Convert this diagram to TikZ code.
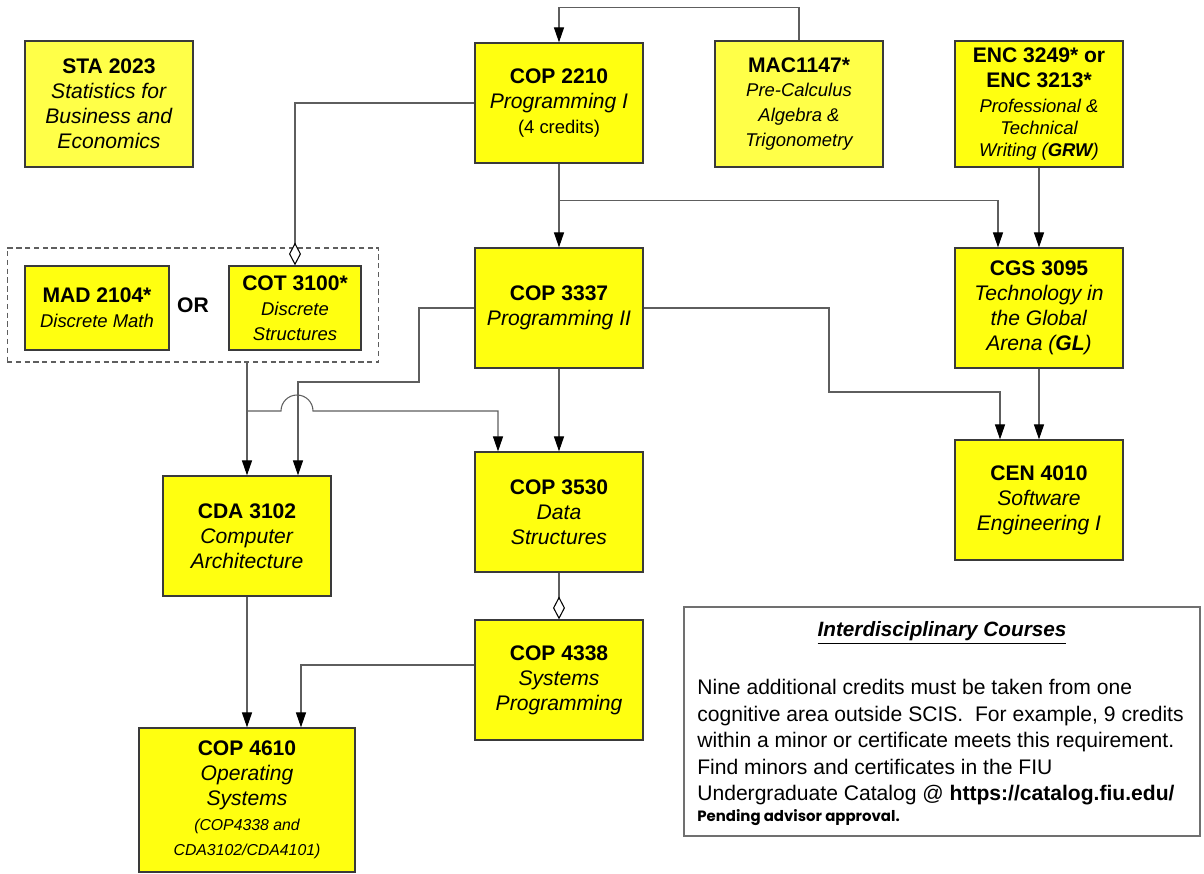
\documentclass[tikz,border=0pt]{standalone}
\usepackage{fontspec}
\setmainfont{Liberation Sans}
\newfontfamily\pendingfont{Poppins}
\usetikzlibrary{arrows.meta}

\definecolor{courseyellow}{HTML}{FFFF10}
\definecolor{paleyellow}{HTML}{FFFF48}
\definecolor{boxline}{HTML}{3A3A3A}
\definecolor{wireline}{HTML}{5E5E5E}
\definecolor{infoline}{HTML}{707070}

\newcommand{\mainsize}{\fontsize{12}{14.2}\selectfont}
\newcommand{\subsize}{\fontsize{10.5}{13}\selectfont}
\newcommand{\notesize}{\fontsize{9}{13}\selectfont}
\newcommand{\infosize}{\fontsize{12}{15.1}\selectfont}
\newcommand{\subit}[1]{{\subsize\itshape #1}}
\newcommand{\subrm}[1]{{\subsize #1}}
\newcommand{\noteit}[1]{{\notesize\itshape #1}}

\tikzset{
    course/.style = {draw = boxline, line width = 0.75pt, fill = courseyellow, align = center,
        inner sep = 0pt, minimum width = 3.36cm, minimum height = 2.4cm, font = \mainsize},
    wire/.style = {draw = wireline, line width = 0.6pt},
    prereq/.style = {wire, -{Triangle[width = 5.7pt, length = 8.5pt, color = black]}},
    coreq/.style = {wire, -{Diamond[width = 6.8pt, length = 13pt, color = black, fill = white]}},
    orbox/.style = {draw = wireline, line width = 0.6pt, dash pattern = on 3pt off 2pt,
        minimum width = 7.44cm, minimum height = 2.28cm},
    infobox/.style = {draw = infoline, line width = 1pt, minimum width = 10.32cm, minimum height = 4.58cm}
}

\begin{document}
\begin{tikzpicture}[x = 0.02cm, y = -0.02cm]
    \useasboundingbox (0, 0) rectangle (1204, 873);

    % top row
    \node [course, fill = paleyellow, minimum height = 2.52cm] (sta) at (109, 104)
        {\textbf{STA 2023}\\ \textit{Statistics for}\\ \textit{Business and}\\ \textit{Economics}};
    \node [course] (cop2210) at (559, 103)
        {\textbf{COP 2210}\\ \textit{Programming I}\\ \subrm{(4 credits)}};
    \node [course, fill = paleyellow, minimum height = 2.52cm] (mac) at (799, 104)
        {\textbf{MAC1147*}\\ \subit{Pre-Calculus}\\ \subit{Algebra \&}\\ \subit{Trigonometry}};
    \node [course, minimum height = 2.52cm] (enc) at (1039, 104)
        {\textbf{ENC 3249* or}\\ \textbf{ENC 3213*}\\ \subit{Professional \&}\\[-1.5pt] \subit{Technical}\\[-1.5pt] \subit{Writing (\textbf{GRW})}};

    % discrete math choice
    \node [orbox] (orgroup) at (193, 305) {};
    \node [course, minimum width = 2.88cm, minimum height = 1.68cm] (mad) at (97, 308)
        {\textbf{MAD 2104*}\\ \subit{Discrete Math}};
    \node [font = \mainsize\bfseries] (ortext) at (193, 305) {OR};
    \node [course, minimum width = 2.64cm, minimum height = 1.68cm] (cot) at (295, 308)
        {\textbf{COT 3100*}\\ \subit{Discrete}\\ \subit{Structures}};

    % middle rows
    \node [course] (cop3337) at (559, 308) {\textbf{COP 3337}\\ \textit{Programming II}};
    \node [course] (cgs) at (1039, 308)
        {\textbf{CGS 3095}\\ \textit{Technology in}\\ \textit{the Global}\\ \textit{Arena (\textbf{GL})}};
    \node [course] (cen) at (1039, 500) {\textbf{CEN 4010}\\ \textit{Software}\\ \textit{Engineering I}};
    \node [course] (cda) at (247, 536) {\textbf{CDA 3102}\\ \textit{Computer}\\ \textit{Architecture}};
    \node [course] (cop3530) at (559, 512) {\textbf{COP 3530}\\ \textit{Data}\\ \textit{Structures}};
    \node [course] (cop4338) at (559, 680) {\textbf{COP 4338}\\ \textit{Systems}\\ \textit{Programming}};
    \node [course, minimum width = 4.32cm, minimum height = 2.88cm] (cop4610) at (247, 800)
        {\textbf{COP 4610}\\ \textit{Operating}\\ \textit{Systems}\\ \noteit{(COP4338 and}\\ \noteit{CDA3102/CDA4101)}};

    % note box
    \node [infobox] (info) at (942, 721.5) {};
    \node [font = \fontsize{11.8}{14}\selectfont\bfseries\itshape] (infotitle) at (942, 633)
        {\underline{Interdisciplinary Courses}};
    \node [anchor = north west, align = left, inner sep = 0pt, font = \infosize] (infotext) at (697, 679)
        {Nine additional credits must be taken from one\\
         cognitive area outside SCIS.\ \ For example, 9 credits\\
         within a minor or certificate meets this requirement.\\
         Find minors and certificates in the FIU\\
         Undergraduate Catalog @ \textbf{https://catalog.fiu.edu/}\\[-3.2pt]
         {\pendingfont\fontsize{8.5}{11}\selectfont\bfseries Pending advisor approval.}};

    % connectors
    \draw [prereq] (mac.north) -- ++(0, -33) -| (cop2210.north);
    \draw [prereq] (cop2210.south) -- (cop3337.north);
    \draw [prereq] (cop2210.south) -- ++(0, 37) -| ([xshift = -0.82cm] cgs.north);
    \draw [prereq] (enc.south) -- (cgs.north);
    \draw [prereq] (cgs.south) -- (cen.north);
    \draw [prereq] (cop3337.east) -| (829, 392) -| ([xshift = -0.78cm] cen.north);
    \draw [prereq] (cop3337.south) -- (cop3530.north);
    \draw [prereq] (cop3337.west) -| (419, 382) -| ([xshift = 1.02cm] cda.north);
    \draw [coreq] (cop2210.west) -| (cot.north);
    \draw [coreq] (cop3530.south) -- (cop4338.north);
    \draw [prereq] (cda.north |- orgroup.south) -- (cda.north);
    \coordinate (split) at (247, 411);
    \draw [prereq] (split) -- (281, 411) arc (180 : 360 : 16) -| ([xshift = -1.22cm] cop3530.north);
    \draw [prereq] (cda.south) -- (cop4610.north);
    \draw [prereq] ([yshift = 0.3cm] cop4338.west) -| ([xshift = 1.08cm] cop4610.north);
\end{tikzpicture}
\end{document}
